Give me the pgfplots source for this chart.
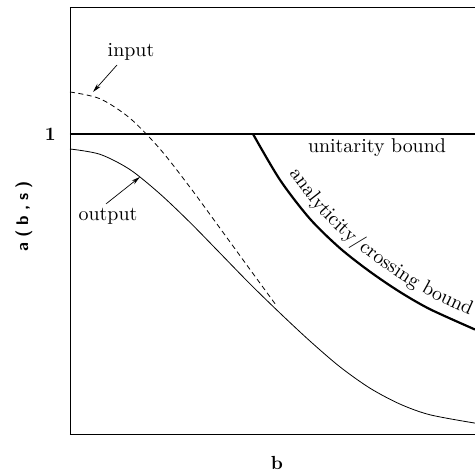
\documentclass[border=0pt]{standalone}
\usepackage{fontspec}
\usepackage{pgfplots}
\pgfplotsset{compat=1.18}
\usetikzlibrary{arrows.meta,decorations.text}
\newfontfamily\lmten{lmroman10-regular.otf}
\newfontfamily\lmtenbf{lmroman10-bold.otf}
\newfontfamily\lmsansbf{lmsans10-bold.otf}
\newcommand{\annfont}{\lmten\fontsize{20}{24}\selectfont}
\begin{document}
\begin{tikzpicture}
\begin{axis}[
  at={(0,0)}, anchor=south west,
  scale only axis, width=405bp, height=427bp,
  xmin=0, xmax=4.05, ymin=0, ymax=1.42333,
  axis x line*=box, axis y line*=left,
  axis line style={line width=0.9bp},
  xtick=\empty, ytick={1}, yticklabels={1},
  yticklabel style={font=\lmtenbf\fontsize{19}{22}\selectfont, inner sep=0pt, xshift=-14bp},
  tick align=inside, major tick length=5bp,
  tick style={line width=0.9bp, black},
  xlabel={b},
  every axis x label/.style={at={(axis description cs:0.511,-0.068)}, anchor=center,
     font=\lmtenbf\fontsize{19}{22}\selectfont},
  ylabel={a\kern5bp(\kern5bp b\kern5bp,\kern5bp s\kern5bp)},
  every axis y label/.style={at={(axis description cs:-0.114,0.51)}, rotate=90, anchor=center,
     font=\lmsansbf\fontsize{17}{20}\selectfont},
  clip=true,
]
% input (dashed)
\addplot[black, line width=0.8bp, dash pattern=on 5bp off 3.5bp, smooth] coordinates {
 (0,1.140) (0.3,1.1175) (0.6,1.0525) (0.9,0.950) (1.2,0.8225) (1.5,0.686) (1.8,0.5485) (2.07,0.4253)
};
% output (solid)
\addplot[black, line width=0.8bp, smooth] coordinates {
 (0,0.950) (0.3,0.9323) (0.6,0.8813) (0.9,0.8003) (1.2,0.7053) (1.5,0.6030) (1.8,0.5003)
 (2.1,0.4030) (2.4,0.3097) (2.7,0.2237) (3.0,0.1527) (3.3,0.0997) (3.6,0.0640) (4.05,0.0363)
};
% unitarity bound
\addplot[black, line width=2.2bp] coordinates {(0,1) (4.05,1)};
% analyticity/crossing bound
\addplot[black, line width=2.2bp, smooth] coordinates {
 (1.83,1.000) (2.10,0.847) (2.40,0.717) (2.70,0.6193) (3.00,0.541) (3.30,0.4733) (3.60,0.416) (4.05,0.3483)
};
% annotations
\node[anchor=base, font=\annfont] at (axis cs:0.61,1.257) {input};
\node[anchor=base, font=\annfont] at (axis cs:0.38,0.713) {output};
\node[anchor=base, font=\annfont] at (axis cs:3.07,0.937) {unitarity bound};
\draw[line width=0.7bp, -{Stealth[length=9bp,width=4.5bp]}] (axis cs:0.47,1.23) -- (axis cs:0.23,1.14);
\draw[line width=0.7bp, -{Stealth[length=9bp,width=4.5bp]}] (axis cs:0.36,0.767) -- (axis cs:0.70,0.857);
\path[decorate, decoration={text along path, text align={left},
  text={|\annfont|analyticity/crossing{ }bound}}]
  plot[smooth] coordinates {
  (2.192,0.8673) (2.481,0.7417) (2.771,0.6473) (3.064,0.5707) (3.359,0.5043)
  (3.651,0.4487) (4.089,0.3827) (4.40,0.345)};
\end{axis}
\pgfresetboundingbox
\path[use as bounding box] (-70bp,-41bp) rectangle (405bp,434bp);
\end{tikzpicture}
\end{document}
